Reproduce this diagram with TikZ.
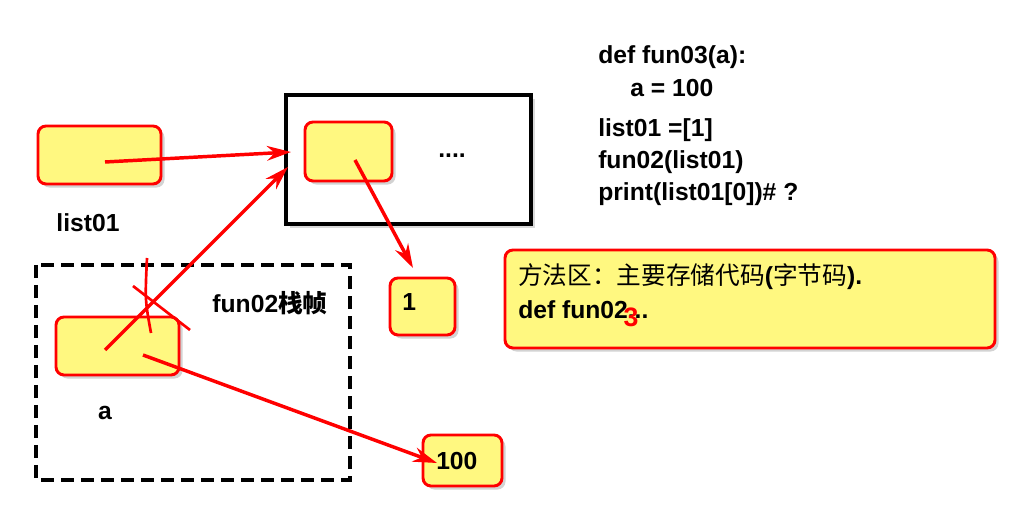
\documentclass[tikz,border=0pt]{standalone}
\usepackage{fontspec}
\setmainfont{Liberation Sans}
\newfontfamily\cjk{Noto Sans CJK SC}
\usetikzlibrary{shadows,arrows.meta}
\begin{document}
\begin{tikzpicture}[x=0.75pt,y=-0.75pt,
  ybox/.style={draw=red,line width=2.2pt,fill=yellow!50,rounded corners=6pt,drop shadow={opacity=0.35}},
  lbl/.style={font=\bfseries\fontsize{18.5}{22}\selectfont,inner sep=0pt},
  arr/.style={red,line width=2.6pt,-{Stealth[length=18pt,width=11pt]}},
  crossline/.style={red,line width=2pt}]
\useasboundingbox (0,0) rectangle (1014,530);
\draw[ybox] (38,126) rectangle (161,184);
\node[lbl] (l1) at (88,223) {list01};
\draw[black,line width=3pt,drop shadow={opacity=0.3}, fill=white] (286,95) rectangle (531,224);
\draw[ybox] (305,122) rectangle (392,181);
\node[lbl] (dots) at (452,156) {....};
\draw[ybox] (390,278) rectangle (455,335);
\node[lbl,anchor=west] (one) at (402,302) {1};
\draw[ybox] (423,435) rectangle (502,486);
\node[lbl,anchor=west] (hund) at (436,461) {100};
\draw[black,line width=3pt,dash pattern=on 10pt off 5pt] (36,265) rectangle (350,480);
\node[lbl] (fr) at (270,303) {fun02{\cjk 栈帧}};
\draw[ybox] (56,317) rectangle (179,375);
\node[lbl] (a) at (105,413) {a};
\begin{scope}[every node/.style={lbl,anchor=west}]
\node (c1) at (598,57) {def fun03(a):};
\node (c2) at (630,88) {a = 100};
\node (c3) at (598,130) {list01 =[1]};
\node (c4) at (598,162) {fun02(list01)};
\node (c5) at (598,194) {print(list01[0])\# ?};
\end{scope}
\draw[ybox] (505,250) rectangle (995,348);
\node[anchor=west,inner sep=0pt,font=\fontsize{18.5}{22}\selectfont] (m1) at (518,277) {{\cjk 方法区：主要存储代码}\textbf{(}{\cjk 字节码}\textbf{).}};
\node[lbl,anchor=west] (m2) at (518,310) {def fun02...};
\node[red,inner sep=0pt,font=\bfseries\fontsize{20}{22}\selectfont] (m3) at (631,317) {3};
\coordinate (s1) at (105,162); \coordinate (t1) at (291,152);
\coordinate (s2) at (105,350); \coordinate (t2) at (288,167);
\coordinate (s3) at (355,160); \coordinate (t3) at (413,268);
\coordinate (s4) at (143,355); \coordinate (t4) at (437,463);
\draw[arr] (s1) -- (t1);
\draw[arr] (s2) -- (t2);
\draw[arr] (s3) -- (t3);
\draw[arr] (s4) -- (t4);
\coordinate (x1) at (147,258); \coordinate (x2) at (151,333);
\coordinate (x3) at (133,286); \coordinate (x4) at (190,330);
\draw[crossline] (x1) .. controls (145,300) .. (x2);
\draw[crossline] (x3) -- (x4);
\end{tikzpicture}
\end{document}
